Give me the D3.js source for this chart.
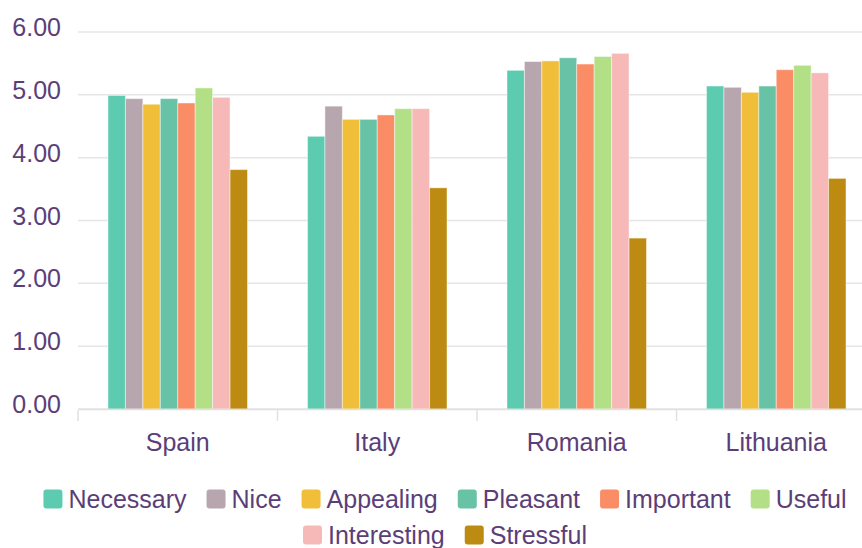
<!DOCTYPE html>
<html>
<head>
<meta charset="utf-8">
<script src="https://cdn.jsdelivr.net/npm/d3@7"></script>
<style>
  body { margin: 0; background: #fff; }
  svg { display: block; font-family: "Liberation Sans", Arial, sans-serif; }
  .grid line { stroke: #e6e6e6; stroke-width: 1.5; }
  .lbl { fill: #5b3e78; }
</style>
</head>
<body>
<svg id="chart" width="862" height="548"></svg>
<script>
// categories and series
var countries = ["Spain", "Italy", "Romania", "Lithuania"];
var seriesNames = ["Necessary", "Nice", "Appealing", "Pleasant", "Important", "Useful", "Interesting", "Stressful"];
var seriesColors = ["#5ccbb0", "#b8a6ae", "#f1be3a", "#68c3a6", "#fa8c66", "#b3e087", "#f6b9b8", "#bd8b11"];

// values per series, in country order
var necessary   = [4.99, 4.34, 5.39, 5.14];
var nice        = [4.94, 4.82, 5.53, 5.12];
var appealing   = [4.85, 4.61, 5.54, 5.04];
var pleasant    = [4.94, 4.61, 5.59, 5.14];
var important   = [4.87, 4.68, 5.49, 5.40];
var useful      = [5.11, 4.78, 5.61, 5.47];
var interesting = [4.96, 4.78, 5.66, 5.35];
var stressful   = [3.81, 3.52, 2.72, 3.67];

var yTicks = [0, 1, 2, 3, 4, 5, 6];

var values = [necessary, nice, appealing, pleasant, important, useful, interesting, stressful];

var svg = d3.select("#chart");

// plot area (right edge runs past the window, like the reference)
var plotLeft = 78, plotRight = 876, plotTop = 32, plotBottom = 409;

var x = d3.scaleBand()
  .domain(countries)
  .range([plotLeft, plotRight]);

var inner = d3.scaleBand()
  .domain(seriesNames)
  .range([30, x.bandwidth() - 30]);

var y = d3.scaleLinear()
  .domain([0, 6])
  .range([plotBottom, plotTop]);

// horizontal grid lines
svg.append("g")
  .attr("class", "grid")
  .selectAll("line")
  .data(yTicks)
  .enter().append("line")
  .attr("x1", plotLeft)
  .attr("x2", plotRight)
  .attr("y1", function (d) { return y(d); })
  .attr("y2", function (d) { return y(d); });

// y labels
svg.append("g")
  .selectAll("text")
  .data(yTicks)
  .enter().append("text")
  .attr("class", "lbl")
  .attr("x", 61)
  .attr("y", function (d) { return y(d) + 4; })
  .attr("text-anchor", "end")
  .style("font-size", "25px")
  .text(function (d) { return d3.format(".2f")(d); });

// bars
var groups = svg.append("g")
  .selectAll("g")
  .data(countries)
  .enter().append("g")
  .attr("transform", function (d) { return "translate(" + x(d) + ",0)"; });

groups.selectAll("rect")
  .data(function (c, ci) {
    return seriesNames.map(function (s, si) { return { s: s, i: si, v: values[si][ci] }; });
  })
  .enter().append("rect")
  .attr("x", function (d) { return inner(d.s); })
  .attr("width", inner.bandwidth())
  .attr("y", function (d) { return y(d.v); })
  .attr("height", function (d) { return y(0) - y(d.v); })
  .attr("fill", function (d) { return seriesColors[d.i]; })
  .attr("stroke", "rgba(255,255,255,0.45)")
  .attr("stroke-width", 1);

// x axis line and ticks
var xAxis = svg.append("g")
  .attr("transform", "translate(0," + plotBottom + ")")
  .call(d3.axisBottom(x).tickSize(0).tickFormat(""));
xAxis.select(".domain").attr("stroke", "#e0e0e0").attr("stroke-width", 1.5);

svg.append("g")
  .selectAll("line")
  .data(countries.concat(["end"]))
  .enter().append("line")
  .attr("x1", function (d, i) { return plotLeft + i * x.bandwidth(); })
  .attr("x2", function (d, i) { return plotLeft + i * x.bandwidth(); })
  .attr("y1", plotBottom + 1)
  .attr("y2", plotBottom + 12)
  .attr("stroke", "#e0e0e0")
  .attr("stroke-width", 1.5);

svg.append("g")
  .selectAll("text")
  .data(countries)
  .enter().append("text")
  .attr("class", "lbl")
  .attr("x", function (d) { return x(d) + x.bandwidth() / 2; })
  .attr("y", 451)
  .attr("text-anchor", "middle")
  .style("font-size", "25px")
  .text(function (d) { return d; });

// legend, two centred rows
var rows = [seriesNames.slice(0, 6), seriesNames.slice(6)];
var rowY = [499, 535];
var legend = svg.append("g");
var gap = 20;

rows.forEach(function (row, ri) {
  var g = legend.append("g");
  var pos = 0;
  row.forEach(function (name) {
    var item = g.append("g").attr("transform", "translate(" + pos + ",0)");
    item.append("rect")
      .attr("x", 0)
      .attr("y", rowY[ri] - 9.5)
      .attr("width", 19)
      .attr("height", 19)
      .attr("rx", 3)
      .attr("fill", seriesColors[seriesNames.indexOf(name)]);
    var t = item.append("text")
      .attr("class", "lbl")
      .attr("x", 25)
      .attr("y", rowY[ri] + 9)
      .style("font-size", "25px")
      .text(name);
    pos += 25 + t.node().getComputedTextLength() + gap;
  });
  var w = pos - gap;
  g.attr("transform", "translate(" + (445 - w / 2) + ",0)");
});
</script>
</body>
</html>
